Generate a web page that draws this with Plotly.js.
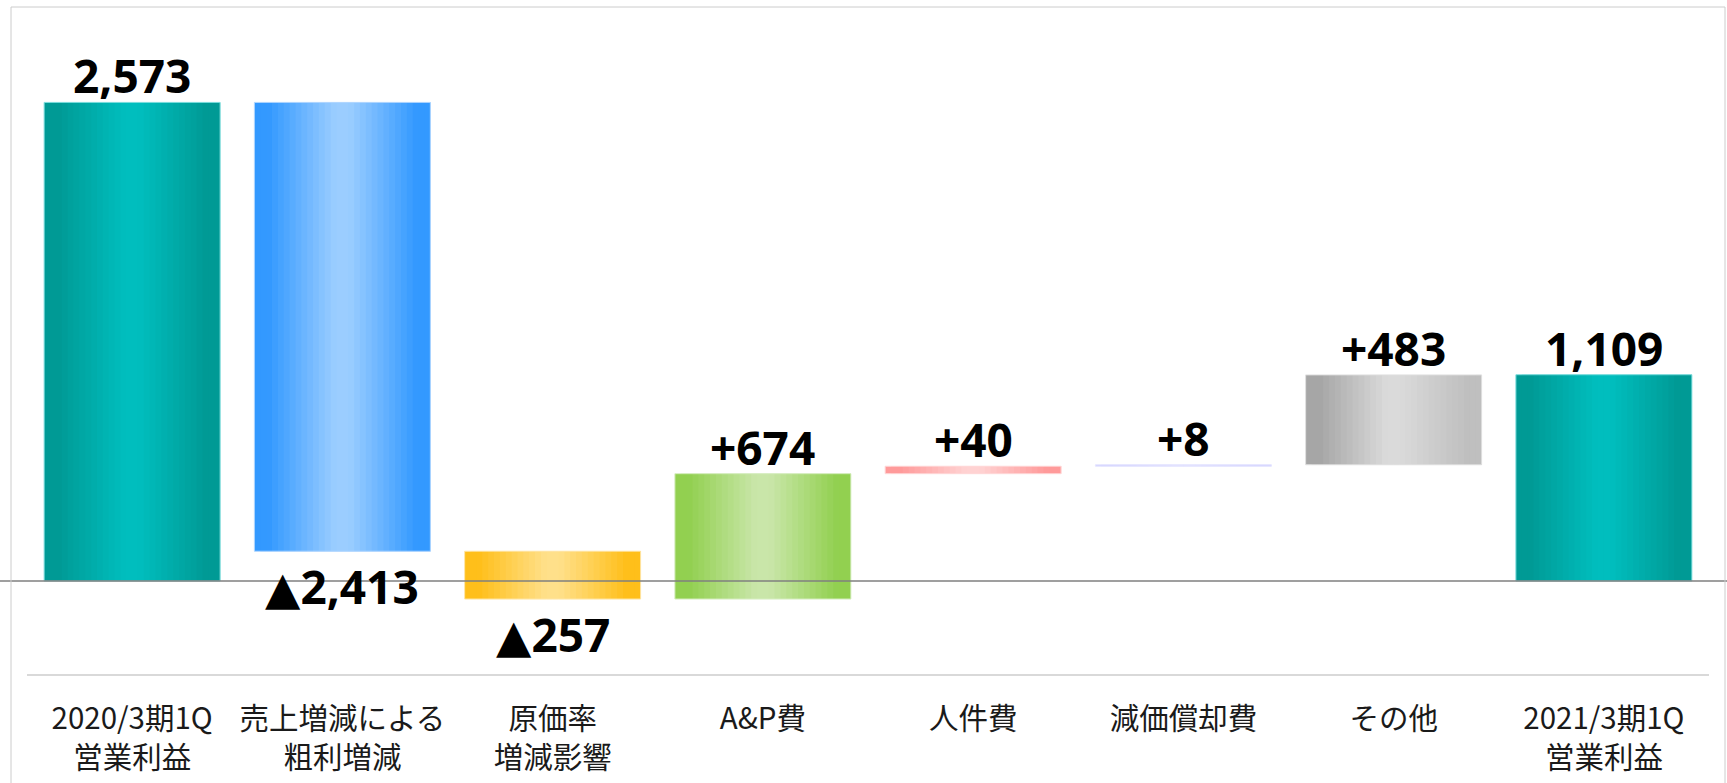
<!DOCTYPE html>
<html><head><meta charset="utf-8">
<script src="https://cdn.plot.ly/plotly-3.0.1.min.js"></script>
<style>html,body{margin:0;padding:0;background:#fff}#chart{width:1727px;height:783px}</style>
</head><body><div id="chart"></div>
<script>
// ---- data ----
const categories = ["2020/3期1Q<br>営業利益", "売上増減による<br>粗利増減", "原価率<br>増減影響", "A&P費", "人件費", "減価償却費", "その他", "2021/3期1Q<br>営業利益"];
const values = [2573, -2413, -257, 674, 40, 8, 483, 1109];
const measures = ["absolute", "relative", "relative", "relative", "relative", "relative", "relative", "total"];

// ---- styles ----
const leftColors   = ["#009a95", "#3399ff", "#ffbf1a", "#92d050", "#ff9a9a", "#ccccff", "#a6a6a6", "#009a95"];
const centerColors = ["#00bebe", "#9bcdff", "#ffe08a", "#c9e6a9", "#ffd2d2", "#dedeff", "#dadada", "#00bebe"];
const rightColors  = ["#009a95", "#3399ff", "#ffbf1a", "#92d050", "#ff9a9a", "#ccccff", "#bfbfbf", "#009a95"];
const borderColors = ["#80dede", "#b0d6ff", "#ffe6a8", "#d6edc0", "#ffd8d8", "#e6e6ff", "#e0e0e0", "#80dede"];

// ---- waterfall geometry from data ----
const bases = [], heights = [], tops = [], bottoms = [];
let run = 0;
values.forEach((v, i) => {
  let lo, hi;
  if (measures[i] === "absolute") { lo = Math.min(0, v); hi = Math.max(0, v); run = v; }
  else if (measures[i] === "total") { lo = Math.min(0, v); hi = Math.max(0, v); }
  else { lo = Math.min(run, run + v); hi = Math.max(run, run + v); run += v; }
  bases.push(lo); heights.push(hi - lo); tops.push(hi); bottoms.push(lo);
});
const labels = values.map((v, i) => {
  const s = Math.abs(v).toLocaleString("en-US");
  if (measures[i] !== "relative") return s;
  return v < 0 ? "▲" + s : "+" + s;
});

function hex2rgb(h) { return [1, 3, 5].map(k => parseInt(h.substr(k, 2), 16)); }
function mix(a, b, f) {
  const A = hex2rgb(a), B = hex2rgb(b);
  return "rgb(" + A.map((x, k) => Math.round(x + (B[k] - x) * f)).join(",") + ")";
}
function grad(i, t) {
  if (t <= 0.5) {
    const f = Math.min(1, Math.max(0, (t - 0.08) / 0.38));
    return mix(leftColors[i], centerColors[i], f);
  }
  const f = Math.min(1, Math.max(0, (0.92 - t) / 0.38));
  return mix(rightColors[i], centerColors[i], f);
}

const W = 0.837, N = 30, w = W / N;
const traces = [];
for (let s = 0; s < N; s++) {
  const t = (s + 0.5) / N;
  traces.push({
    type: "bar", x: categories, y: heights, base: bases,
    offset: -W / 2 + s * w, width: s === N - 1 ? w : w * 2,
    marker: { color: categories.map((c, i) => grad(i, t)), line: { width: 0 } },
    hoverinfo: "skip", showlegend: false
  });
}
traces.push({
  type: "bar", x: categories, y: heights, base: bases,
  offset: -W / 2, width: W,
  marker: { color: "rgba(0,0,0,0)", line: { width: 1, color: borderColors } },
  hoverinfo: "skip", showlegend: false
});

const annotations = labels.map((txt, i) => {
  const neg = measures[i] === "relative" && values[i] < 0;
  return {
    x: categories[i], y: neg ? bottoms[i] : tops[i], xref: "x", yref: "y",
    text: txt, showarrow: false, xanchor: "center",
    yanchor: neg ? "top" : "bottom", yshift: neg ? -2 : -6,
    font: { family: "Noto Sans, DejaVu Sans", size: 46, color: "#000", weight: "bold" }
  };
});

const layout = {
  width: 1727, height: 783,
  margin: { l: 27, r: 18, t: 23, b: 109 },
  paper_bgcolor: "#fff", plot_bgcolor: "#fff",
  barmode: "overlay", showlegend: false,
  xaxis: {
    type: "category", categoryorder: "array", categoryarray: categories,
    range: [-0.5, categories.length - 0.5],
    showline: true, linecolor: "#d9d9d9", linewidth: 2,
    ticks: "", showgrid: false, zeroline: false, ticklabelstandoff: 18,
    tickfont: { family: "Noto Sans CJK JP", size: 29.5, color: "#1a1a1a" }
  },
  yaxis: {
    range: [-500, 3000], showgrid: false, zeroline: false,
    showticklabels: false, showline: false, ticks: ""
  },
  shapes: [
    { type: "line", xref: "paper", yref: "y", x0: -0.03, x1: 1.03, y0: 0, y1: 0,
      line: { color: "#7f7f7f", width: 1.5 }, layer: "above" },
    { type: "rect", xref: "paper", yref: "paper", x0: -16 / 1682, x1: 1698 / 1682,
      y0: -0.25, y1: 667 / 651, line: { color: "#cccccc", width: 1 }, fillcolor: "rgba(0,0,0,0)" }
  ],
  annotations: annotations
};

Plotly.newPlot("chart", traces, layout, { displayModeBar: false, staticPlot: true });
</script>
</body></html>
